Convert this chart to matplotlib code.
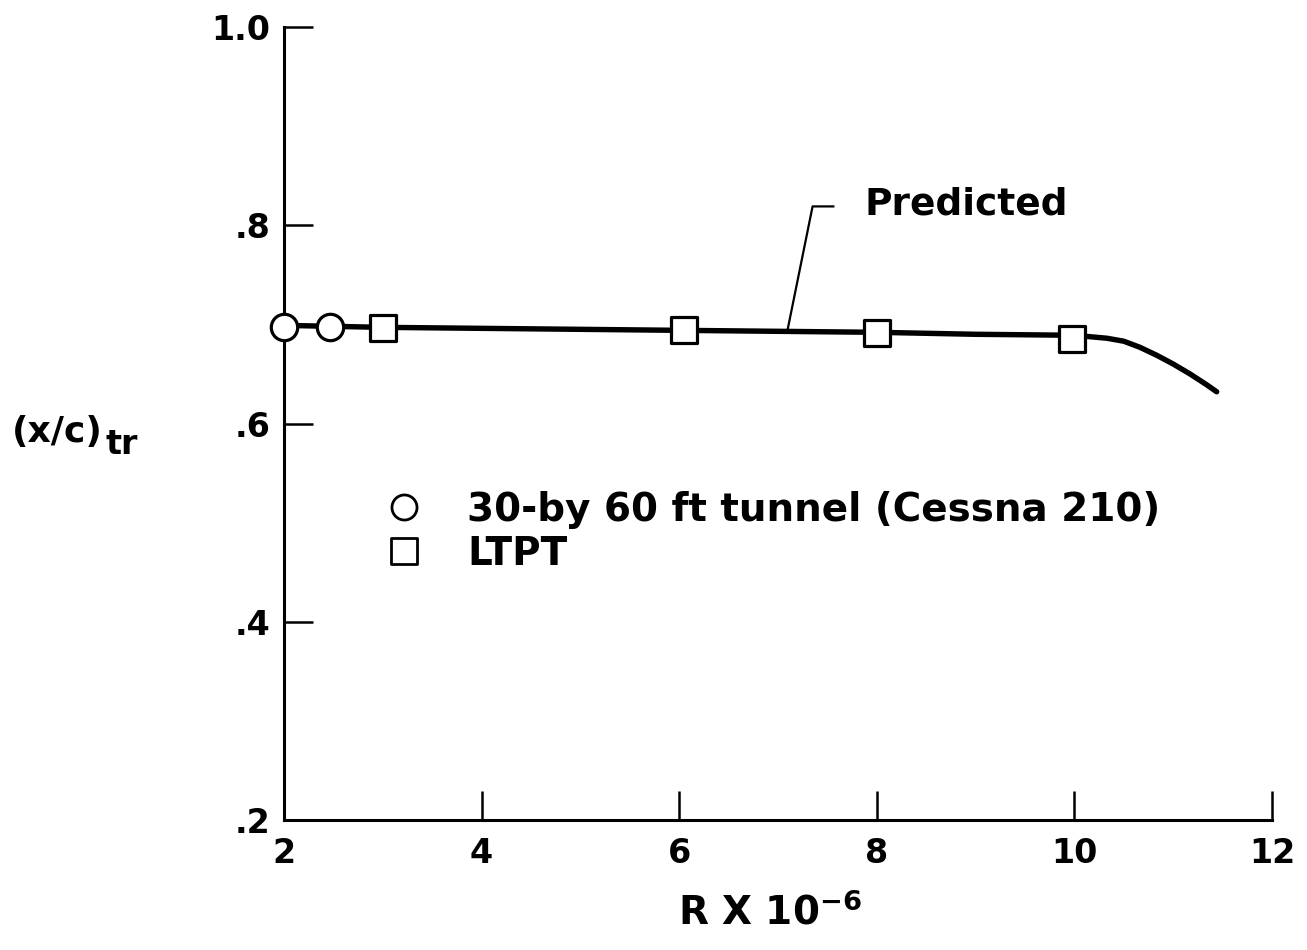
import matplotlib
matplotlib.use("Agg")
import matplotlib.pyplot as plt
from matplotlib.markers import MarkerStyle

# ---- data ----
tunnel_R = [2.0, 2.47]
tunnel_xc = [0.697, 0.697]
ltpt_R = [3.0, 6.05, 8.0, 9.98]
ltpt_xc = [0.696, 0.694, 0.691, 0.685]
pred_R = [2.0, 3.0, 4.0, 5.0, 6.0, 7.0, 8.0, 9.0, 10.0, 10.11, 10.33, 10.50, 10.66,
          10.83, 11.00, 11.17, 11.34, 11.44]
pred_xc = [0.699, 0.697, 0.696, 0.695, 0.694, 0.693, 0.692, 0.690, 0.689, 0.688, 0.686,
           0.683, 0.677, 0.669, 0.660, 0.650, 0.639, 0.632]

x_ticks = [2, 4, 6, 8, 10, 12]
x_ticklabels = ["2", "4", "6", "8", "10", "12"]
y_ticks = [0.2, 0.4, 0.6, 0.8, 1.0]
y_ticklabels = [".2", ".4", ".6", ".8", "1.0"]

leader_R = [7.10, 7.35, 7.56]
leader_xc = [0.696, 0.819, 0.819]
label_pred = ("Predicted", 7.88, 0.821)

plt.rcParams['font.family'] = ['DejaVu Sans']
plt.rcParams['font.weight'] = 'bold'
plt.rcParams['mathtext.fontset'] = 'custom'
plt.rcParams['mathtext.rm'] = 'DejaVu Sans:bold'
plt.rcParams['mathtext.default'] = 'rm'

fig = plt.figure(figsize=(13.07, 9.5), dpi=100)
ax = fig.add_axes([284/1307, 1-820/950, (1272-284)/1307, (820-27)/950])

sq = MarkerStyle('s', joinstyle='round')
ax.plot(pred_R, pred_xc, color='black', lw=3.9, solid_capstyle='round',
        solid_joinstyle='round', zorder=2, clip_on=False)
ax.plot(tunnel_R, tunnel_xc, linestyle='none', marker='o', ms=19, mfc='white', mec='black',
        mew=2.3, zorder=3, clip_on=False, label='30-by 60 ft tunnel (Cessna 210)')
ax.plot(ltpt_R, ltpt_xc, linestyle='none', marker=sq, ms=19, mfc='white', mec='black',
        mew=2.3, zorder=3, clip_on=False, label='LTPT')

ax.plot(leader_R, leader_xc, color='black', lw=1.6, zorder=2)
ax.text(label_pred[1], label_pred[2], label_pred[0], fontsize=27, fontweight='bold',
        va='center', ha='left')

ax.set_xlim(2, 12)
ax.set_ylim(0.2, 1.0)
ax.set_xticks(x_ticks)
ax.set_xticklabels(x_ticklabels)
ax.set_yticks(y_ticks)
ax.set_yticklabels(y_ticklabels)
ax.tick_params(direction='in', length=21, width=1.8, labelsize=24, pad=10)
ax.tick_params(axis='x', pad=12)
for s in ['top', 'right']:
    ax.spines[s].set_visible(False)
for s in ['left', 'bottom']:
    ax.spines[s].set_linewidth(2.2)

leg = ax.legend(loc='upper left', bbox_to_anchor=(0.068, 0.459), frameon=False,
                fontsize=28, handlelength=0.9, handletextpad=1.18, labelspacing=0.15,
                markerscale=0.95)
for h in leg.legend_handles:
    h.set_markeredgewidth(2.0)

fig.text(1 - (1307-770)/1307, 1 - 913/950, r'R X 10$^{-6}$', fontsize=28, fontweight='bold',
         ha='center', va='center')
fig.text(12/1307, 1 - 432/950, '(x/c)', fontsize=26, fontweight='bold', ha='left', va='center')
fig.text(106/1307, 1 - 445/950, 'tr', fontsize=24, fontweight='bold', ha='left', va='center')

fig.savefig('out.png', dpi=100)
